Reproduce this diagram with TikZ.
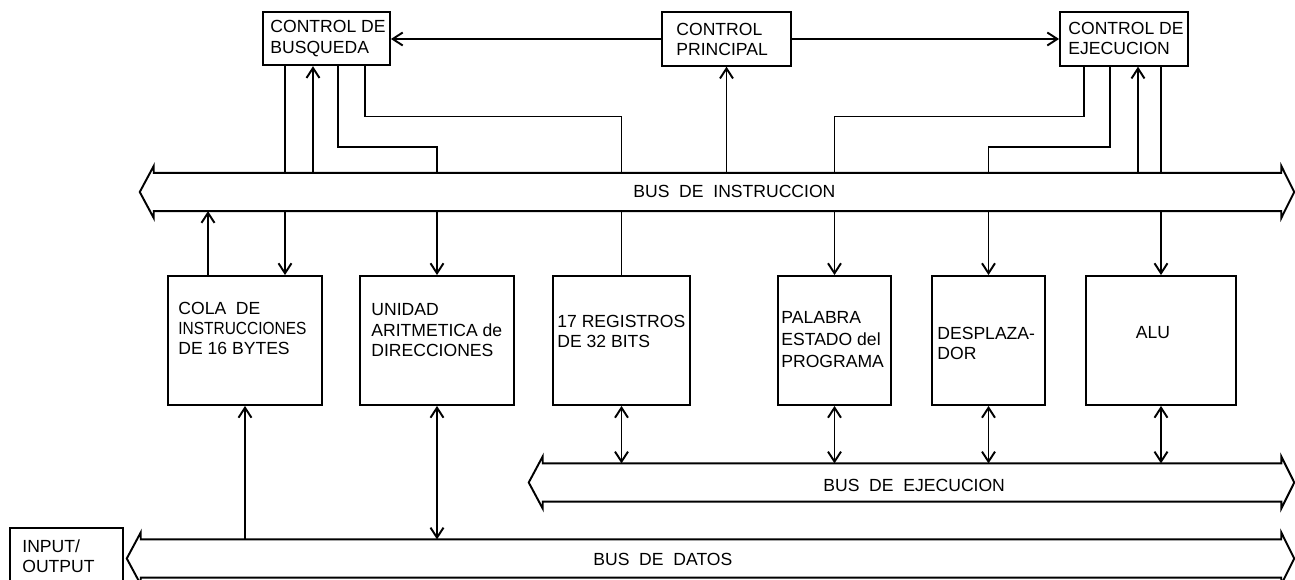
\documentclass[tikz,border=0pt]{standalone}
\usepackage{fontspec}
\setmainfont{Liberation Sans}
\usetikzlibrary{arrows.meta, positioning}

% outline of a bus with an open head at each end
\newcommand{\busoutline}[1]{%
  \draw[ln] (#1.north west) -- (#1.north east) -- ([yshift=0.14cm]#1.north east)
    -- ([xshift=0.26cm]#1.east) -- ([yshift=-0.14cm]#1.south east) -- (#1.south east)
    -- (#1.south west) -- ([yshift=-0.14cm]#1.south west) -- ([xshift=-0.28cm]#1.west)
    -- ([yshift=0.14cm]#1.north west) -- cycle;}

\begin{document}
\begin{tikzpicture}[
    x=0.02cm, y=-0.02cm,
    every node/.style={font=\fontsize{10}{11.5}\selectfont},
    ctrl/.style={draw, line width=1.1pt, minimum height=1.07cm, inner sep=0pt},
    unit/.style={draw, line width=1.1pt, minimum height=2.58cm, inner sep=0pt},
    bus/.style={minimum height=0.75cm, inner sep=0pt},
    txt/.style={inner sep=0pt, align=left, anchor=north west},
    ln/.style={line width=1.1pt},
    ar/.style={-{Straight Barb[length=2mm, width=2.6mm]}, line width=1.1pt},
    dar/.style={{Straight Barb[length=2mm, width=2.6mm]}-{Straight Barb[length=2mm, width=2.6mm]}, line width=1.1pt}
]
\path[use as bounding box, fill=white] (0,0) rectangle (1295,580);
% ----- control units -----
\node[ctrl, minimum width=2.54cm] (busq) at (326.5,38.5) {};
\node[ctrl, minimum width=2.58cm] (principal) at (726.5,39) {};
\node[ctrl, minimum width=2.56cm] (ejec) at (1124,39) {};
\node[txt] (busq-t) at ([xshift=0.16cm, yshift=-0.19cm]busq.north west) {CONTROL DE\\BUSQUEDA};
\node[txt] (principal-t) at ([xshift=0.30cm, yshift=-0.23cm]principal.north west) {CONTROL\\PRINCIPAL};
\node[txt] (ejec-t) at ([xshift=0.18cm, yshift=-0.21cm]ejec.north west) {CONTROL DE\\EJECUCION};
% ----- buses -----
\node[bus, minimum width=22.54cm] (instr) at (717.5,192) {};
\node[bus, minimum width=14.76cm] (exec) at (912,482.5) {};
\node[bus, minimum width=22.8cm] (data) at (711,558.5) {};
\busoutline{instr}
\busoutline{exec}
\busoutline{data}
\node[inner sep=0pt, anchor=west] (instr-t) at (633,191) {BUS\ \ DE\ \ INSTRUCCION};
\node[inner sep=0pt, anchor=west] (exec-t) at (823,485) {BUS\ \ DE\ \ EJECUCION};
\node[inner sep=0pt, anchor=west] (data-t) at (593,559) {BUS\ \ DE\ \ DATOS};
% ----- processing units -----
\node[unit, minimum width=3.08cm] (cola) at (245,340.5) {};
\node[unit, minimum width=3.08cm] (unidad) at (437,340.5) {};
\node[unit, minimum width=2.74cm] (registros) at (621.5,340.5) {};
\node[unit, minimum width=2.26cm] (palabra) at (834.5,340.5) {};
\node[unit, minimum width=2.26cm] (desplaz) at (988.5,340.5) {};
\node[unit, minimum width=3.0cm] (alu) at (1161,340.5) {};
\node[txt] (cola-t) at ([xshift=0.22cm, yshift=-0.53cm]cola.north west) {COLA\ \ DE\\\scalebox{0.88}[1]{INSTRUCCIONES}\\DE 16 BYTES};
\node[txt] (unidad-t) at ([xshift=0.24cm, yshift=-0.57cm]unidad.north west) {UNIDAD\\ARITMETICA de\\DIRECCIONES};
\node[txt] (registros-t) at ([xshift=0.10cm, yshift=-0.79cm]registros.north west) {17 REGISTROS\\DE 32 BITS};
\node[txt, font=\fontsize{10}{12.5}\selectfont] (palabra-t) at ([xshift=0.08cm, yshift=-0.73cm]palabra.north west) {PALABRA\\ESTADO del\\PROGRAMA};
\node[txt] (desplaz-t) at ([xshift=0.12cm, yshift=-1.03cm]desplaz.north west) {DESPLAZA-\\DOR};
\node[inner sep=0pt, anchor=north] (alu-t) at ([xshift=-0.16cm, yshift=-1.03cm]alu.north) {ALU};
% ----- input / output -----
\node[draw, line width=1.1pt, minimum width=2.26cm, minimum height=1.12cm, inner sep=0pt] (io) at (66.5,556) {};
\node[txt] (io-t) at ([xshift=0.26cm, yshift=-0.24cm]io.north west) {INPUT/\\OUTPUT};
% guide columns and elbow levels
\coordinate (c1) at (208,0);
\coordinate (b1) at (285,0);
\coordinate (b2) at (313,0);
\coordinate (b3) at (338,0);
\coordinate (b4) at (365,0);
\coordinate (e1) at (1084,0);
\coordinate (e2) at (1110,0);
\coordinate (e3) at (1138,0);
\coordinate (k1) at (0,147);
\coordinate (k2) at (0,116.5);
% control lines
\draw[ar] (principal.west) -- (principal.west -| busq.east);
\draw[ar] (principal.east) -- (principal.east -| ejec.west);
\draw[ar] (principal.south |- instr.north) -- (principal.south);
\draw[ln] (b1 |- busq.south) -- (b1 |- instr.north);
\draw[ar] (b2 |- instr.north) -- (b2 |- busq.south);
\draw[ln] (b3 |- busq.south) |- (unidad.north |- k1) -- (unidad.north |- instr.north);
\draw[ln] (b4 |- busq.south) |- (registros.north |- k2) -- (registros.north |- instr.north);
\draw[ln] (e1 |- ejec.south) |- (palabra.north |- k2) -- (palabra.north |- instr.north);
\draw[ln] (e2 |- ejec.south) |- (desplaz.north |- k1) -- (desplaz.north |- instr.north);
\draw[ar] (e3 |- instr.north) -- (e3 |- ejec.south);
\draw[ln] (alu.north |- ejec.south) -- (alu.north |- instr.north);
% instruction bus to units
\draw[ar] (c1 |- cola.north) -- (c1 |- instr.south);
\draw[ar] (b1 |- instr.south) -- (b1 |- cola.north);
\draw[ln] (registros.north |- instr.south) -- (registros.north);
\foreach \u in {unidad, palabra, desplaz, alu}
  \draw[ar] (\u.north |- instr.south) -- (\u.north);
% execution and data buses
\foreach \u in {registros, palabra, desplaz, alu}
  \draw[dar] (\u.south) -- (\u.south |- exec.north);
\draw[ar] (cola.south |- data.north) -- (cola.south);
\draw[dar] (unidad.south) -- (unidad.south |- data.north);
\end{tikzpicture}
\end{document}
